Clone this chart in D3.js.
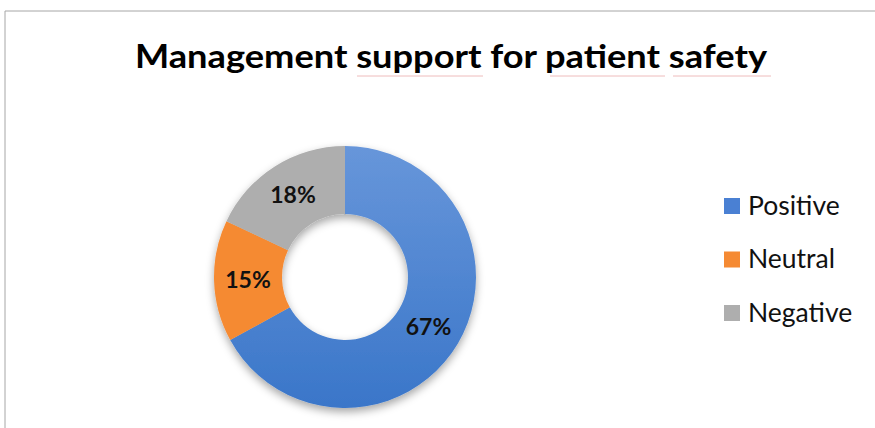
<!DOCTYPE html>
<html>
<head>
<meta charset="utf-8">
<script src="https://cdn.jsdelivr.net/npm/d3@7"></script>
<style>
  body { margin: 0; background: #fff; }
  svg { display: block; }
</style>
</head>
<body>
<div id="chart"></div>
<script>
// data
var categories = ["Positive", "Neutral", "Negative"];
var shares = [67, 15, 18];
var colors = ["#4a80d3", "#f58a33", "#aeaeae"];

var W = 875, H = 428;
var cx = 345, cy = 277, rOuter = 131, rInner = 63;

var svg = d3.select("#chart").append("svg")
    .attr("width", W)
    .attr("height", H);

var defs = svg.append("defs");
var f = defs.append("filter").attr("id", "shadow")
    .attr("x", "-20%").attr("y", "-20%").attr("width", "140%").attr("height", "140%");
f.append("feDropShadow")
    .attr("dx", 0).attr("dy", 4).attr("stdDeviation", 4)
    .attr("flood-color", "#000").attr("flood-opacity", 0.35);

var grad = defs.append("linearGradient").attr("id", "blueGrad")
    .attr("x1", 0).attr("y1", 0).attr("x2", 0).attr("y2", 1);
grad.append("stop").attr("offset", "0%").attr("stop-color", "#6796da");
grad.append("stop").attr("offset", "100%").attr("stop-color", "#3a76c9");

// frame lines (chart box cropped at left/top)
svg.append("line").attr("x1", 5).attr("y1", 11).attr("x2", W).attr("y2", 11)
    .attr("stroke", "#a6a6a6").attr("stroke-width", 1);
svg.append("line").attr("x1", 5).attr("y1", 11).attr("x2", 5).attr("y2", H)
    .attr("stroke", "#a6a6a6").attr("stroke-width", 1);

// title
svg.append("text")
    .attr("x", 135)
    .attr("y", 68)
    .attr("textLength", 632)
    .attr("lengthAdjust", "spacingAndGlyphs")
    .attr("font-family", "Lato, 'Open Sans', sans-serif")
    .attr("font-weight", "bold")
    .attr("font-size", "33px")
    .attr("fill", "#000")
    .text("Management support for patient safety");

// spell-check underlines seen in the screenshot
[[357, 483], [550, 665], [673, 771]].forEach(function(s) {
  svg.append("line")
      .attr("x1", s[0]).attr("x2", s[1]).attr("y1", 76).attr("y2", 76)
      .attr("stroke", "#e8a0a0").attr("stroke-width", 1).attr("opacity", 0.7);
});

var pie = d3.pie().sort(null).value(function(d) { return d; });
var arcs = pie(shares);
var arc = d3.arc().innerRadius(rInner).outerRadius(rOuter);
var labelArc = d3.arc().innerRadius(97).outerRadius(97);

var g = svg.append("g").attr("transform", "translate(" + cx + "," + cy + ")");

g.append("g").attr("filter", "url(#shadow)")
  .selectAll("path")
  .data(arcs)
  .enter()
  .append("path")
    .attr("d", arc)
    .attr("fill", function(d, i) { return i === 0 ? "url(#blueGrad)" : colors[i]; });

g.selectAll("text.lbl")
  .data(arcs)
  .enter()
  .append("text")
    .attr("class", "lbl")
    .attr("transform", function(d) { return "translate(" + labelArc.centroid(d) + ")"; })
    .attr("text-anchor", "middle")
    .attr("dy", "0.36em")
    .attr("font-family", "Lato, 'Open Sans', sans-serif")
    .attr("font-weight", "bold")
    .attr("font-size", "23px")
    .attr("fill", "#111")
    .text(function(d) { return d.data + "%"; });

// legend
var legend = svg.append("g").attr("transform", "translate(724,206)");
var item = legend.selectAll("g")
  .data(categories)
  .enter()
  .append("g")
    .attr("transform", function(d, i) { return "translate(0," + (i * 53.5) + ")"; });
item.append("rect")
    .attr("x", 0).attr("y", -8)
    .attr("width", 16).attr("height", 16)
    .attr("fill", function(d, i) { return colors[i]; });
item.append("text")
    .attr("x", 24)
    .attr("y", 0)
    .attr("dy", "0.33em")
    .attr("font-family", "Lato, 'Open Sans', sans-serif")
    .attr("font-size", "26.5px")
    .attr("fill", "#111")
    .text(function(d) { return d; });
</script>
</body>
</html>
